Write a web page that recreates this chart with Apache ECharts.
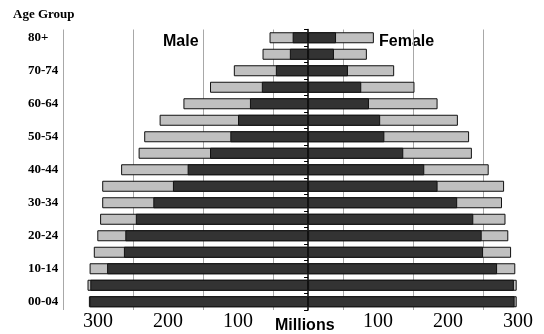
<!DOCTYPE html>
<html><head><meta charset="utf-8">
<script src="https://cdn.jsdelivr.net/npm/echarts@6/dist/echarts.min.js"></script>
<style>html,body{margin:0;padding:0;background:#fff}#c{width:544px;height:334px}</style>
</head><body><div id="c"></div>
<script>
var categories = ['00-04','05-09','10-14','15-19','20-24','25-29','30-34','35-39','40-44','45-49','50-54','55-59','60-64','65-69','70-74','75-79','80+'];
var maleInner = [312, 311, 287, 263, 261, 246, 221, 193, 172, 140, 111, 100, 83, 66, 46, 26, 22];
var maleTotal = [313, 315, 312, 306, 301, 297, 294, 294, 267, 242, 234, 212, 178, 140, 106, 65, 55];
var femaleInner = [295, 294, 270, 250, 248, 236, 213, 185, 166, 136, 109, 103, 87, 76, 57, 37, 40];
var femaleTotal = [298, 298, 296, 290, 286, 282, 277, 280, 258, 234, 230, 214, 185, 152, 123, 84, 94];
var tickValues = [100, 200, 300];

var chart = echarts.init(document.getElementById('c'), null, {renderer: 'canvas'});
var neg = function (a) { return a.map(function (v) { return -v; }); };
var light = '#c0c0c0', dark = '#333333';
var xMin = -350, xMax = 337;
function bar(name, data, color, z) {
  return {
    name: name, type: 'bar', data: data, xAxisIndex: 0, yAxisIndex: 0,
    barWidth: 11, barGap: '-100%', z: z, animation: false,
    itemStyle: {color: color, borderColor: '#111', borderWidth: 1}
  };
}
chart.setOption({
  animation: false,
  grid: {left: 63, right: 0, top: 29.5, bottom: 24, containLabel: false, outerBoundsMode: 'none'},
  xAxis: [
    {type: 'value', min: xMin, max: xMax, interval: 100,
     axisLine: {show: false}, axisTick: {show: false}, axisLabel: {show: false},
     splitLine: {show: true, lineStyle: {color: '#a8a8a8', width: 1}}},
    {type: 'value', position: 'bottom', min: xMin, max: xMax, interval: 50,
     axisLine: {show: false}, axisTick: {show: false}, splitLine: {show: false},
     axisLabel: {show: true, margin: 2, color: '#000', fontFamily: 'Liberation Serif', fontSize: 20, lineHeight: 20,
       formatter: function (v) { var a = Math.abs(v); return tickValues.indexOf(a) >= 0 ? String(a) : ''; }}}
  ],
  yAxis: [
    {type: 'category', data: categories, position: 'left',
     axisLine: {show: true, onZero: true, onZeroAxisIndex: 0, lineStyle: {color: '#000', width: 1.5}},
     axisTick: {show: true, length: 4, lineStyle: {color: '#000'}},
     axisLabel: {show: false}, splitLine: {show: false}},
    {type: 'category', data: categories, position: 'left',
     axisLine: {show: false, onZero: false}, axisTick: {show: false}, splitLine: {show: false},
     axisLabel: {show: true, interval: 1, align: 'left', margin: 35, color: '#000',
       fontFamily: 'Liberation Serif', fontWeight: 'bold', fontSize: 13}}
  ],
  series: [
    bar('Male total', neg(maleTotal), light, 2),
    bar('Male', neg(maleInner), dark, 3),
    bar('Female total', femaleTotal, light, 2),
    bar('Female', femaleInner, dark, 3)
  ],
  graphic: [
    {type: 'text', left: 13, top: 8, style: {text: 'Age Group', fill: '#000', font: 'bold 13px "Liberation Serif"'}},
    {type: 'text', left: 163, top: 34, style: {text: 'Male', fill: '#000', font: 'bold 16px "Liberation Sans"'}},
    {type: 'text', left: 379, top: 34, style: {text: 'Female', fill: '#000', font: 'bold 16px "Liberation Sans"'}},
    {type: 'text', left: 275, top: 318, style: {text: 'Millions', fill: '#000', font: 'bold 16px "Liberation Sans"'}}
  ]
});
</script></body></html>
